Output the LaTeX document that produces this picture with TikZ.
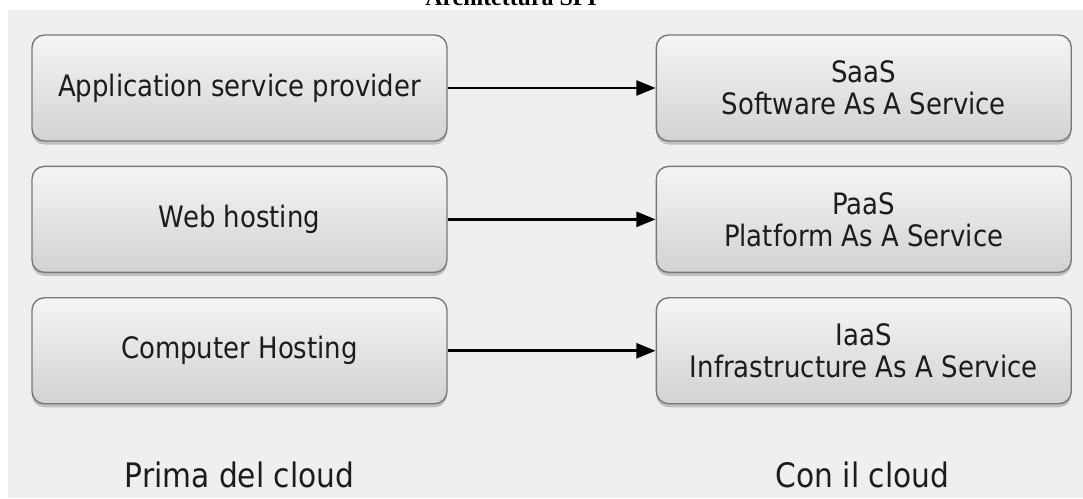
\documentclass[tikz,border=0pt]{standalone}
\usepackage{fontspec}
\setmainfont{DejaVu Sans}[FakeStretch=0.88]
\newfontfamily\titlefont{Liberation Serif}
\usetikzlibrary{arrows.meta, positioning, shadows}
\definecolor{cbg}{RGB}{239,239,239}
\definecolor{cboxtop}{RGB}{245,245,245}
\definecolor{cboxbot}{RGB}{210,210,210}
\definecolor{cedge}{RGB}{120,120,120}
\definecolor{ctext}{RGB}{28,28,28}

\begin{document}
\begin{tikzpicture}[
  x=0.02cm, y=-0.02cm,
  font=\fontsize{16.8}{18.1}\selectfont,
  box/.style={draw=cedge, line width=0.8pt, rounded corners=7pt,
              top color=cboxtop, bottom color=cboxbot,
              minimum width=8.3cm, minimum height=2.12cm,
              align=center, text=ctext, inner sep=0pt,
              drop shadow={shadow xshift=0pt, shadow yshift=-2pt,
                           opacity=0.35, fill=black!60}},
  lbl/.style={text=ctext, font=\fontsize{19.2}{21}\selectfont},
  arr/.style={-{Triangle[length=11pt,width=8.5pt]}, line width=1.7pt, black}
]
  \useasboundingbox (0,0) rectangle (1083,498);
  \fill[white] (0,0) rectangle (1083,498);
  \fill[cbg] (8,10) rectangle (1083,498);

  % title, cut at the top edge
  \node[font=\titlefont\bfseries\fontsize{13.6}{15}\selectfont, anchor=base]
    (title) at (511,5) {Architettura SPI};

  % Left column
  \node[box] (asp) at (239.5,88) {Application service provider};
  \node[box,below=0.48cm of asp] (web) {Web hosting};
  \node[box,below=0.48cm of web] (comp) {Computer Hosting};

  % Right column
  \node[box,right=4.16cm of asp] (saas) {SaaS\\Software As A Service};
  \node[box,right=4.16cm of web] (paas) {PaaS\\Platform As A Service};
  \node[box,right=4.16cm of comp] (iaas) {IaaS\\Infrastructure As A Service};

  % Arrows
  \draw[arr] (asp) -- (saas);
  \draw[arr] (web) -- (paas);
  \draw[arr] (comp) -- (iaas);

  % Column labels
  \node[lbl, anchor=base] (prima) at (239.5,487) {Prima del cloud};
  \node[lbl, anchor=base] (con) at (862.5,487) {Con il cloud};
\end{tikzpicture}
\end{document}
